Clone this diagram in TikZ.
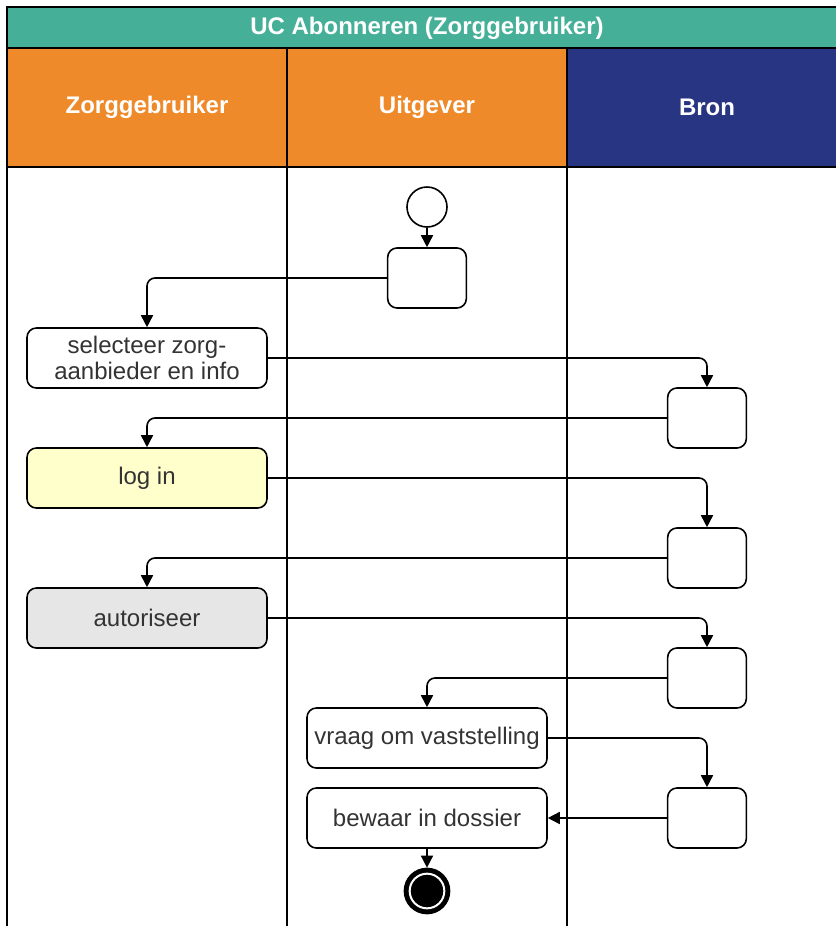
\documentclass[tikz,border=0pt]{standalone}
\usepackage{fontspec}
\setmainfont{Liberation Sans}
\usetikzlibrary{arrows.meta}
\tikzset{>={Triangle[length=9pt,width=9pt]}}
\definecolor{titlegreen}{HTML}{45AF97}
\definecolor{laneorange}{HTML}{EE8A2A}
\definecolor{lanenavy}{HTML}{283583}
\definecolor{loginyellow}{HTML}{FFFFCC}
\definecolor{authgray}{HTML}{E6E6E6}

\begin{document}
\begin{tikzpicture}[x=0.75pt,y=-0.75pt,
    act/.style = {draw, rounded corners=7pt, line width=1.2pt, minimum width=180pt,
        minimum height=45pt, inner sep=0pt, align=center, text=black!80,
        font=\fontsize{18}{19}\selectfont},
    bronact/.style = {act, minimum width=59pt},
    lane/.style = {line width=1.4pt},
    hdr/.style = {text=white, font=\bfseries\fontsize{18}{21}\selectfont},
    flow/.style = {->, line width=1.2pt, rounded corners=6pt}]
\useasboundingbox (0,0) rectangle (836,926);
\clip (0,0) rectangle (836,926);

% swimlanes
\fill[titlegreen] (7,7) rectangle (847,48);
\fill[laneorange] (7,48) rectangle (567,167);
\fill[lanenavy] (567,48) rectangle (847,167);
\draw[lane] (7,940) -- (7,7) -- (847,7) -- (847,940);
\draw[lane] (7,48) -- (847,48);
\draw[lane] (7,167) -- (847,167);
\draw[lane] (287,48) -- (287,940);
\draw[lane] (567,48) -- (567,940);
\node[hdr] (title) at (427,28) {UC Abonneren (Zorggebruiker)};
\node[hdr] (zg) at (147,107) {Zorggebruiker};
\node[hdr] (uit) at (427,107) {Uitgever};
\node[hdr] (bron) at (707,107) {Bron};

% activities
\node[draw, circle, line width=1.2pt, minimum size=30pt] (start) at (427,207) {};
\node[act, minimum width=59pt] (a0) at (427,278) {};
\node[act] (sel) at (147,358) {selecteer zorg-\\aanbieder en info};
\node[bronact] (b1) at (707,418) {};
\node[act, fill=loginyellow] (login) at (147,478) {log in};
\node[bronact] (b2) at (707,558) {};
\node[act, fill=authgray] (auth) at (147,618) {autoriseer};
\node[bronact] (b3) at (707,678) {};
\node[act] (vraag) at (427,738) {vraag om vaststelling};
\node[bronact] (b4) at (707,818) {};
\node[act] (bewaar) at (427,818) {bewaar in dossier};
\node[circle, fill=black, draw=black, double=white, line width=3.75pt,
    double distance=1.5pt, minimum size=26pt, inner sep=0pt, outer sep=4.5pt] (end) at (427,891) {};

% flow
\draw[flow] (start) -- (a0);
\draw[flow] (a0.west) -| (sel.north);
\draw[flow] (sel.east) -| (b1.north);
\draw[flow] (b1.west) -| (login.north);
\draw[flow] (login.east) -| (b2.north);
\draw[flow] (b2.west) -| (auth.north);
\draw[flow] (auth.east) -| (b3.north);
\draw[flow] (b3.west) -| (vraag.north);
\draw[flow] (vraag.east) -| (b4.north);
\draw[flow] (b4) -- (bewaar);
\draw[flow] (bewaar) -- (end);
\end{tikzpicture}
\end{document}
